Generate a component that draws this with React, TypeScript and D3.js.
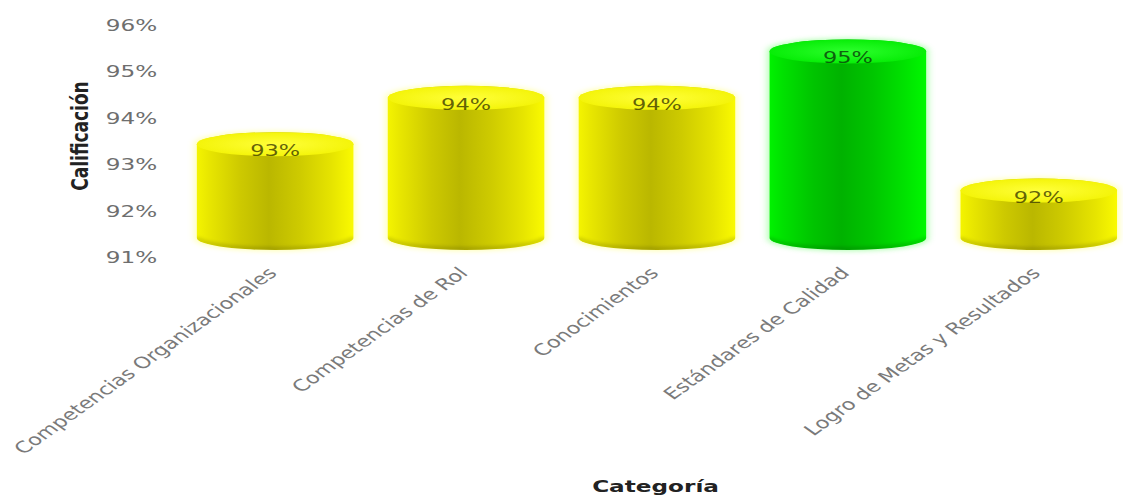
import React from "react";
import * as d3 from "d3";

// Scores per evaluation category (percent)
const categories = [
  "Competencias Organizacionales",
  "Competencias de Rol",
  "Conocimientos",
  "Estándares de Calidad",
  "Logro de Metas y Resultados",
];
const scores = [93, 94, 94, 95, 92];
const yTicks = [91, 92, 93, 94, 95, 96];
const yDomain = [91, 96];

const yAxisTitle = "Calificación";
const xAxisTitle = "Categoría";

// Drawing space: the chart is laid out on an 800-wide canvas and stretched to the page width.
const W0 = 800;
const H = 496;
const OUT_W = 1123;

const FONT = "'DejaVu Sans', Verdana, sans-serif";

export default function App() {
  const x = d3
    .scaleBand<string>()
    .domain(categories)
    .range([128, 808])
    .paddingInner(0.18)
    .paddingOuter(0.09);

  const y = d3.scaleLinear().domain(yDomain).range([257, 25]);

  const depth = 20; // 3D lift of cylinder relative to the axis plane
  const ry = 12; // ellipse vertical radius
  const baseY = y(yDomain[0]) - depth + 1;
  const maxScore = d3.max(scores) as number;

  const cylinderPath = (cx: number, rx: number, top: number, base: number) =>
    `M${cx - rx},${top} L${cx - rx},${base} A${rx},${ry} 0 0 0 ${cx + rx},${base} L${cx + rx},${top} A${rx},${ry} 0 0 0 ${cx - rx},${top} Z`;

  return (
    <svg
      width={OUT_W}
      height={H}
      viewBox={`0 0 ${W0} ${H}`}
      preserveAspectRatio="none"
      style={{ position: "absolute", left: 0, top: 0, background: "#fff" }}
    >
      <defs>
        <linearGradient id="sideYellow" x1="0" x2="1" y1="0" y2="0">
          <stop offset="0%" stopColor="#f4f400" />
          <stop offset="8%" stopColor="#e8e600" />
          <stop offset="28%" stopColor="#cdc900" />
          <stop offset="46%" stopColor="#bab700" />
          <stop offset="66%" stopColor="#cecb00" />
          <stop offset="86%" stopColor="#e6e400" />
          <stop offset="100%" stopColor="#fafa00" />
        </linearGradient>
        <linearGradient id="sideGreen" x1="0" x2="1" y1="0" y2="0">
          <stop offset="0%" stopColor="#00f200" />
          <stop offset="8%" stopColor="#00e200" />
          <stop offset="28%" stopColor="#00c400" />
          <stop offset="46%" stopColor="#00b200" />
          <stop offset="66%" stopColor="#00c600" />
          <stop offset="86%" stopColor="#00e200" />
          <stop offset="100%" stopColor="#00f800" />
        </linearGradient>
        <radialGradient id="topYellow" cx="0.5" cy="0.5" r="0.6">
          <stop offset="0%" stopColor="#ffff3a" />
          <stop offset="100%" stopColor="#f2f200" />
        </radialGradient>
        <radialGradient id="topGreen" cx="0.5" cy="0.5" r="0.6">
          <stop offset="0%" stopColor="#2cff2c" />
          <stop offset="100%" stopColor="#00ea00" />
        </radialGradient>
        <filter id="halo" x="-10%" y="-10%" width="120%" height="120%">
          <feGaussianBlur stdDeviation="2.5" />
        </filter>
        <filter id="soft" x="-5%" y="-50%" width="110%" height="200%">
          <feGaussianBlur stdDeviation="1.5" />
        </filter>
      </defs>

      {/* y tick labels */}
      <g fontFamily={FONT} fontSize={16.5} fill="#6e6e6e" textAnchor="end">
        {yTicks.map((t) => (
          <text key={t} x={112} y={y(t)} dy="0.36em">
            {`${t}%`}
          </text>
        ))}
      </g>

      {/* cylinders */}
      {categories.map((c, i) => {
        const v = scores[i];
        const rx = x.bandwidth() / 2;
        const cx = (x(c) as number) + rx;
        const top = y(v) - depth;
        const green = v === maxScore;
        const glow = green ? "#9dff9d" : "#ffffa0";
        const clipId = `cyl-${i}`;
        return (
          <g key={c}>
            <clipPath id={clipId}>
              <path d={cylinderPath(cx, rx, top, baseY)} />
            </clipPath>
            <path
              d={cylinderPath(cx, rx + 1.5, top - 1, baseY + 1)}
              fill={glow}
              opacity={0.8}
              filter="url(#halo)"
            />
            <path
              d={cylinderPath(cx, rx, top, baseY)}
              fill={`url(#${green ? "sideGreen" : "sideYellow"})`}
            />
            {/* darker rim along the base */}
            <g clipPath={`url(#${clipId})`}>
              <path
                d={`M${cx - rx},${baseY - 1} A${rx},${ry} 0 0 0 ${cx + rx},${baseY - 1}`}
                fill="none"
                stroke="#000"
                strokeOpacity={0.12}
                strokeWidth={5}
                filter="url(#soft)"
              />
            </g>
            <ellipse
              cx={cx}
              cy={top}
              rx={rx}
              ry={ry}
              fill={`url(#${green ? "topGreen" : "topYellow"})`}
            />
            <text
              x={cx}
              y={top + 12}
              textAnchor="middle"
              fontFamily={FONT}
              fontSize={16}
              fill={green ? "#0a3a0a" : "#3a3a00"}
              fillOpacity={0.8}
            >
              {`${v}%`}
            </text>
          </g>
        );
      })}

      {/* category labels */}
      <g fontFamily={FONT} fontSize={16} fill="#7a7a7a" textAnchor="end">
        {categories.map((c) => {
          const cx = (x(c) as number) + x.bandwidth() / 2;
          return (
            <text key={c} transform={`translate(${cx + 2},${274}) rotate(-45)`}>
              {c}
            </text>
          );
        })}
      </g>

      {/* axis titles */}
      <text
        transform={`translate(63,136) rotate(-90)`}
        textAnchor="middle"
        fontFamily={FONT}
        fontWeight="bold"
        fontSize={17}
        fill="#222"
      >
        {yAxisTitle}
      </text>
      <text
        x={(x.range()[0] + 800) / 2 + 3}
        y={492}
        textAnchor="middle"
        fontFamily={FONT}
        fontWeight="bold"
        fontSize={16.5}
        fill="#222"
      >
        {xAxisTitle}
      </text>
    </svg>
  );
}
